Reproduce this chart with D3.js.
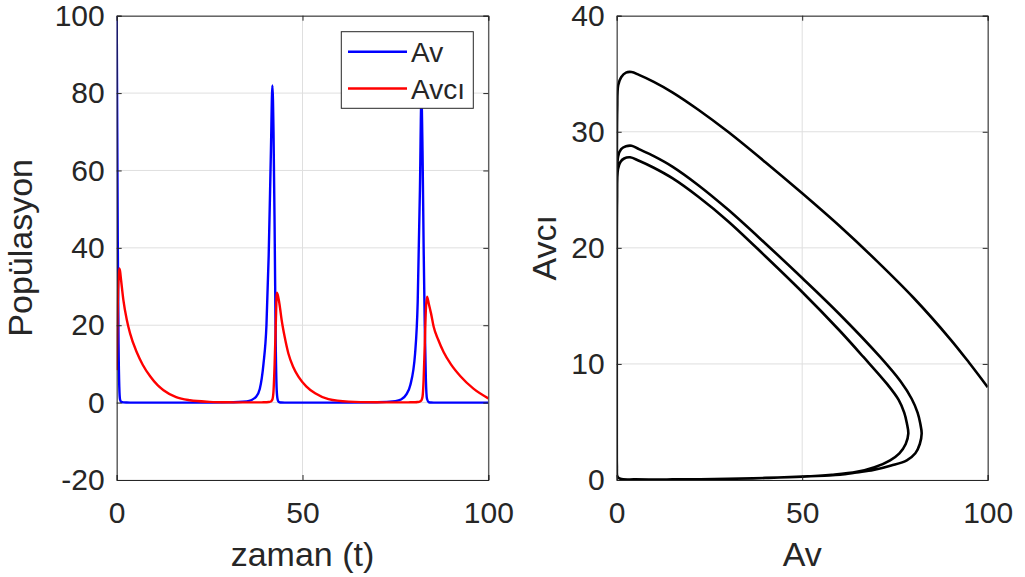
<!DOCTYPE html>
<html>
<head>
<meta charset="utf-8">
<script src="https://cdn.jsdelivr.net/npm/d3@7"></script>
<style>
    body { margin: 0; background: #fff; }
    text { font-family: "Liberation Sans", Arial, sans-serif; fill: #262626; }
</style>
</head>
<body>
<div id="chart"></div>
<script>
// Time series
const timeVals = [0, 0.15, 0.3, 0.5, 0.7, 0.9, 1.2, 1.8, 2.7, 3.6, 5.4, 7, 9, 11, 12.6, 16, 19.7, 25, 30, 35,
    37.5, 38.5, 39.5, 40.3, 40.9, 41.5, 41.9, 42.2, 42.5, 42.8, 43.1, 43.4, 43.8, 44.4, 45.2, 46.2, 47.5, 48.9, 51, 53.4,
    57, 62.4, 70, 75, 76.5, 78, 79, 80.3, 81, 81.6, 82, 82.3, 82.6, 82.9, 83.2, 83.5, 84, 84.6, 85.3, 86.5,
    88, 90, 92.5, 96, 100];
const avVals = [100, 70, 40, 15, 4, 0.8, 0.2, 0.05, 0.02, 0.01, 0.01, 0.01, 0.01, 0.01, 0.01, 0.01, 0.01, 0.02, 0.06, 0.3,
    1.5, 3.5, 10, 20, 38, 65, 82, 70, 45, 15, 2.5, 0.5, 0.1, 0.02, 0.01, 0.01, 0.01, 0.01, 0.01, 0.01,
    0.01, 0.02, 0.08, 0.4, 0.8, 2.2, 4.5, 12.7, 26, 55, 79, 65, 40, 20, 6, 1, 0.1, 0.02, 0.01, 0.01,
    0.01, 0.01, 0.01, 0.01, 0.01];
const avciVals = [8.4, 18, 26, 32, 34.7, 34, 31.5, 26.5, 21.5, 17.9, 13, 9.8, 6.8, 4.5, 3.2, 1.4, 0.6, 0.2, 0.08, 0.05,
    0.06, 0.07, 0.08, 0.1, 0.15, 0.3, 0.8, 3, 10, 20, 28.4, 27.6, 25.5, 21.3, 17, 12.7, 9.2, 6.7, 4.2, 2.4,
    0.9, 0.25, 0.08, 0.06, 0.06, 0.07, 0.08, 0.1, 0.15, 0.3, 0.6, 1.5, 6, 15, 24, 27.4, 25.5, 23, 19.6, 16.3,
    13, 9.8, 6.8, 3.6, 1.1];

// Phase trajectory (Av, Avci), in time order
const phaseAv = [100, 95, 90, 80, 70, 60, 50, 40, 30, 22, 15, 10, 6, 4, 2.5, 1.2, 0.4,
    0.15, 0.05, 0.02, 0.02, 0.02, 0.05, 0.2, 1, 5, 15, 30, 40, 50, 56, 60.2, 64.7, 69.2, 74, 78.2, 80.5, 81.7, 82.2,
    81.8, 81.1, 79.5, 76.5, 71, 60, 50, 40, 30, 22, 15, 10, 6, 4, 2.5, 1.2, 0.4,
    0.15, 0.05, 0.02, 0.02, 0.02, 0.05, 0.2, 1, 5, 15, 30, 40, 50, 58, 64.7, 69.5, 73.7, 76.2, 77.9, 78.6,
    78.2, 77.5, 76, 72.8, 66.5, 60, 50, 40, 30, 22, 15, 10, 6, 3.6, 2, 1, 0.35,
    0.1, 0.03, 0.02, 0.02, 0.03];
const phaseAvci = [8.0, 10.1, 12.1, 15.7, 18.9, 21.9, 24.7, 27.4, 30.0, 31.9, 33.4, 34.3, 34.9, 35.15, 35.1, 34.7, 34.0,
    32, 28, 20, 10, 4, 1.2, 0.3, 0.1, 0.05, 0.05, 0.1, 0.18, 0.3, 0.38, 0.45, 0.65, 0.86, 1.25, 1.7, 2.3, 3.1, 4.0,
    4.9, 5.8, 7.0, 8.5, 10.6, 14.3, 17.4, 20.4, 23.3, 25.4, 27.0, 27.9, 28.5, 28.8, 28.75, 28.5, 27.9,
    26.5, 23, 16, 8, 3, 1, 0.3, 0.1, 0.05, 0.05, 0.1, 0.17, 0.28, 0.45, 0.7, 1.1, 1.7, 2.3, 3.1, 4.0,
    4.9, 5.8, 6.9, 8.3, 10.6, 12.9, 16.2, 19.3, 22.3, 24.4, 26.0, 26.9, 27.5, 27.8, 27.7, 27.4, 26.8,
    24, 18, 10, 4, 1.1];

const xTicks = [0, 50, 100];
const yTicksLeft = [-20, 0, 20, 40, 60, 80, 100];
const yTicksRight = [0, 10, 20, 30, 40];
const legendNames = ["Av", "Avcı"];
const seriesColors = ["#0000ff", "#ff0000"];

const width = 1025;
const height = 577;

const svg = d3.select("#chart")
    .append("svg")
    .attr("width", width)
    .attr("height", height)
    .style("display", "block");

svg.append("rect").attr("width", width).attr("height", height).attr("fill", "#fff");

// grid lines + clip rect for one subplot
function drawGrid(g, x, y, yTicks, clipId) {
    const [x0, x1] = x.range();
    const [y0, y1] = y.range();

    g.append("g").selectAll("line")
        .data(xTicks)
        .enter().append("line")
        .attr("x1", d => x(d)).attr("x2", d => x(d))
        .attr("y1", y0).attr("y2", y1)
        .attr("stroke", "#dfdfdf").attr("stroke-width", 1);
    g.append("g").selectAll("line")
        .data(yTicks)
        .enter().append("line")
        .attr("x1", x0).attr("x2", x1)
        .attr("y1", d => y(d)).attr("y2", d => y(d))
        .attr("stroke", "#dfdfdf").attr("stroke-width", 1);

    g.append("clipPath").attr("id", clipId)
        .append("rect")
        .attr("x", x0).attr("y", y1)
        .attr("width", x1 - x0).attr("height", y0 - y1);
}

function styleAxis(sel) {
    sel.selectAll(".domain").attr("stroke", "#262626").attr("stroke-width", 1);
    sel.selectAll(".tick line").attr("stroke", "#262626").attr("stroke-width", 1);
    sel.selectAll(".tick text")
        .attr("fill", "#262626")
        .style("font-size", "30px")
        .style("font-family", "'Liberation Sans', Arial, sans-serif");
}

// box with inward ticks on all four sides (MATLAB "box on")
function drawFrame(g, x, y, yTicks, xLabel, yLabel, yLabelX) {
    const [x0, x1] = x.range();
    const [y0, y1] = y.range();
    const fmt = d => String(d);

    g.append("g")
        .attr("transform", `translate(0,${y0})`)
        .call(d3.axisBottom(x).tickValues(xTicks).tickSize(-5).tickPadding(22).tickFormat(fmt))
        .call(styleAxis);
    g.append("g")
        .attr("transform", `translate(0,${y1})`)
        .call(d3.axisTop(x).tickValues(xTicks).tickSize(-5).tickFormat(""))
        .call(styleAxis);
    g.append("g")
        .attr("transform", `translate(${x0},0)`)
        .call(d3.axisLeft(y).tickValues(yTicks).tickSize(-5).tickPadding(12).tickFormat(fmt))
        .call(styleAxis);
    g.append("g")
        .attr("transform", `translate(${x1},0)`)
        .call(d3.axisRight(y).tickValues(yTicks).tickSize(-5).tickFormat(""))
        .call(styleAxis);

    g.append("text")
        .attr("x", (x0 + x1) / 2)
        .attr("y", 566)
        .attr("text-anchor", "middle")
        .style("font-size", "34px")
        .text(xLabel);

    g.append("text")
        .attr("transform", `translate(${yLabelX},${(y0 + y1) / 2}) rotate(-90)`)
        .attr("text-anchor", "middle")
        .style("font-size", "34px")
        .text(yLabel);
}

// Left: populations over time
function createTimePlot() {
    const g = svg.append("g");
    const x = d3.scaleLinear().domain([0, 100]).range([116.7, 488.3]);
    const y = d3.scaleLinear().domain([-20, 100]).range([480, 15.7]);

    drawGrid(g, x, y, yTicksLeft, "clip-left");

    const line = vals => d3.line()
        .x((d, i) => x(timeVals[i]))
        .y(d => y(d))
        .curve(d3.curveMonotoneX)(vals);

    const lines = g.append("g").attr("clip-path", "url(#clip-left)");
    [avVals, avciVals].forEach((vals, i) => {
        lines.append("path")
            .attr("d", line(vals))
            .attr("fill", "none")
            .attr("stroke", seriesColors[i])
            .attr("stroke-width", 2.4)
            .attr("stroke-linejoin", "round");
    });

    drawFrame(g, x, y, yTicksLeft, "zaman (t)", "Popülasyon", 32);

    // legend
    const lg = g.append("g");
    lg.append("rect")
        .attr("x", 341.3).attr("y", 31.7)
        .attr("width", 132).attr("height", 76.6)
        .attr("fill", "#fff")
        .attr("stroke", "#262626").attr("stroke-width", 1);
    legendNames.forEach((name, i) => {
        const ly = 51.7 + i * 36.8;
        lg.append("line")
            .attr("x1", 348).attr("x2", 407)
            .attr("y1", ly).attr("y2", ly)
            .attr("stroke", seriesColors[i]).attr("stroke-width", 2.4);
        lg.append("text")
            .attr("x", 411).attr("y", ly)
            .attr("dy", "0.36em")
            .style("font-size", "28px")
            .text(name);
    });
}

// Right: phase portrait
function createPhasePlot() {
    const g = svg.append("g");
    const x = d3.scaleLinear().domain([0, 100]).range([616.7, 987.7]);
    const y = d3.scaleLinear().domain([0, 40]).range([480, 15.7]);

    drawGrid(g, x, y, yTicksRight, "clip-right");

    const pts = phaseAv.map((a, i) => [x(a), y(phaseAvci[i])]);
    g.append("g").attr("clip-path", "url(#clip-right)")
        .append("path")
        .attr("d", d3.line().curve(d3.curveCatmullRom.alpha(0.5))(pts))
        .attr("fill", "none")
        .attr("stroke", "#000")
        .attr("stroke-width", 2.6)
        .attr("stroke-linejoin", "round");

    drawFrame(g, x, y, yTicksRight, "Av", "Avcı", 556);
}

createTimePlot();
createPhasePlot();
</script>
</body>
</html>
